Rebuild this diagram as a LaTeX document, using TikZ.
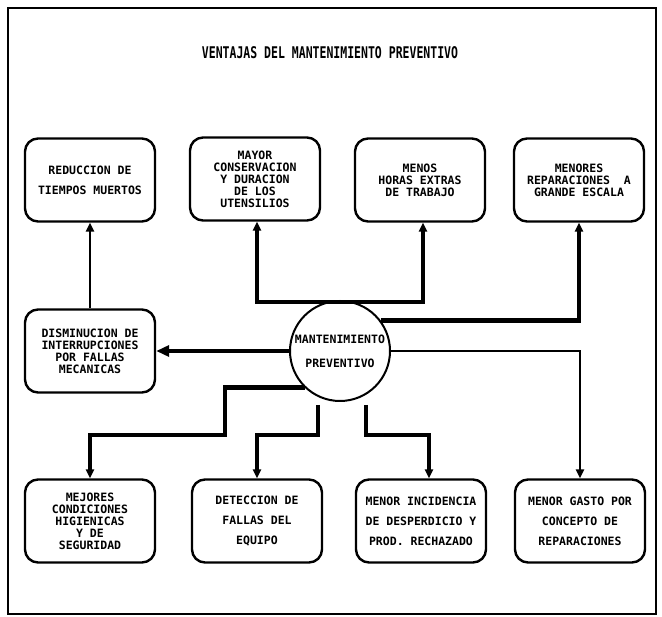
\documentclass[tikz,border=0pt]{standalone}
\usepackage{fontspec}
\usepackage{graphicx}
\usetikzlibrary{arrows.meta}
\newfontfamily\dm{DejaVu Sans Mono}
\tikzset{
  box/.style={draw, line width=2.4pt, rounded corners=13pt, minimum width=130pt,
    minimum height=83pt, inner sep=0pt, align=center,
    font=\dm\bfseries\fontsize{11.5}{12}\selectfont},
  wide/.style={font=\dm\bfseries\fontsize{11.5}{20}\selectfont},
  conn/.style={line width=4.5pt},
  thinc/.style={line width=2.8pt},
  tip/.style={-{Triangle[length=9pt,width=8pt]}},
  bigtip/.style={-{Triangle[length=13pt,width=11pt]}},
}
\begin{document}
\begin{tikzpicture}[x=1pt,y=-1pt]
\useasboundingbox (0,0) rectangle (662,617);
\draw[line width=2.5pt] (8,8) rectangle (656,614);
\node[font=\dm\bfseries\fontsize{11.5}{12}\selectfont] (title) at (330,53)
  {\scalebox{1}[1.4]{VENTAJAS DEL MANTENIMIENTO PREVENTIVO}};

% top row
\node[box, wide] (t1) at (90,180) {REDUCCION DE\\TIEMPOS MUERTOS};
\node[box] (t2) at (255,179) {MAYOR\\CONSERVACION\\Y DURACION\\DE LOS\\UTENSILIOS};
\node[box] (t3) at (420,180) {MENOS\\HORAS EXTRAS\\DE TRABAJO};
\node[box] (t4) at (579,180) {MENORES\\REPARACIONES~~A\\GRANDE ESCALA};

% middle
\node[box] (d) at (90,351) {DISMINUCION DE\\INTERRUPCIONES\\POR FALLAS\\MECANICAS};
\node[circle, draw, line width=2pt, minimum size=100pt, inner sep=0pt, align=center,
  font=\dm\bfseries\fontsize{11.5}{24}\selectfont] (c) at (340,351) {MANTENIMIENTO\\PREVENTIVO};

% bottom row
\node[box] (b1) at (90,521) {MEJORES\\CONDICIONES\\HIGIENICAS\\Y DE\\SEGURIDAD};
\node[box, wide] (b2) at (257,521) {DETECCION DE\\FALLAS DEL\\EQUIPO};
\node[box, wide] (b3) at (421,521) {MENOR INCIDENCIA\\DE DESPERDICIO Y\\PROD. RECHAZADO};
\node[box, wide] (b4) at (580,521) {MENOR GASTO POR\\CONCEPTO DE\\REPARACIONES};

% coordinates
\coordinate (a2) at (257,302);
\coordinate (a3) at (423,302);
\coordinate (l1) at (225,435);
\coordinate (s1) at (318,405);
\coordinate (l2) at (257,435);
\coordinate (s2) at (366,405);
\coordinate (l3) at (429,435);

% connectors
\draw[thinc, tip] (d.north) -- (t1.south);
\draw[conn, tip] (c.north |- a2) -- (a2) -- (a2 |- t2.south);
\draw[conn, tip] (c.north |- a3) -- (a3) -- (a3 |- t3.south);
\draw[conn, tip] (c.37) -| (t4.south);
\draw[conn, bigtip] (c.west) -- (d.east);
\draw[thinc, tip] (c.east) -| (b4.north);
\draw[conn, tip] (c.226) -| (l1) -| (b1.north);
\draw[conn, tip] (s1) |- (l2) -- (l2 |- b2.north);
\draw[conn, tip] (s2) |- (l3) -- (l3 |- b3.north);
\end{tikzpicture}
\end{document}
